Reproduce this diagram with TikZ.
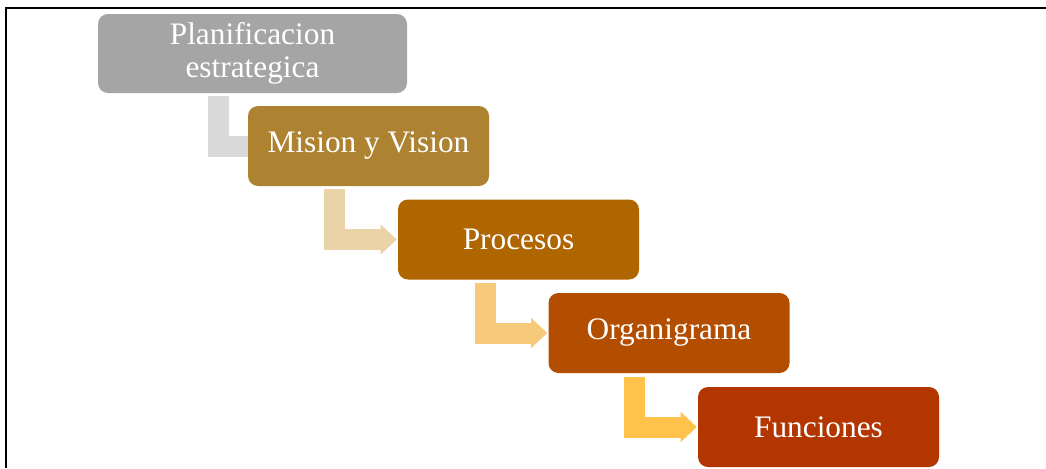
\documentclass[tikz,border=0pt]{standalone}
\usepackage{fontspec}
\setmainfont{Liberation Serif}
\usetikzlibrary{arrows.meta,calc,backgrounds}
\definecolor{cA}{HTML}{A5A5A5}
\definecolor{cB}{HTML}{AD8231}
\definecolor{cC}{HTML}{AF6500}
\definecolor{cD}{HTML}{B34D00}
\definecolor{cE}{HTML}{B33500}
\definecolor{kA}{HTML}{D9D9D9}
\definecolor{kB}{HTML}{EAD3A7}
\definecolor{kC}{HTML}{F6CA7A}
\definecolor{kD}{HTML}{FFC24A}
\tikzset{
  stagebox/.style={rectangle, rounded corners=7.5pt, inner sep=0pt,
    minimum width=180.75pt, minimum height=60pt, text=white, align=center,
    font=\fontsize{23.5}{23.5}\selectfont},
  bentarrow/.style={line width=15.75pt, line join=miter, line cap=butt,
    -{Triangle[length=12pt,width=22.5pt,line width=0pt]}},
  bentplain/.style={line width=15.75pt, line join=miter, line cap=butt},
  frameline/.style={line width=1.5pt, line join=miter}
}
\begin{document}
\begin{tikzpicture}[x=0.75pt,y=-0.75pt]
\useasboundingbox (0,0) rectangle (1046,468);
\draw[frameline] (6.2,468) -- (6.2,7.8) -- (1046,7.8);
\node[stagebox, fill=cA, minimum width=231.75pt, minimum height=59.25pt] (box1) at (252.5,53.5) {Planificacion\\[0.8pt]estrategica};
\node[stagebox, fill=cB] (box2) at (368.5,146) {Mision y Vision};
\node[stagebox, fill=cC] (box3) at (518.5,239.5) {Procesos};
\node[stagebox, fill=cD] (box4) at (669,333) {Organigrama};
\node[stagebox, fill=cE] (box5) at (818.5,427) {Funciones};
\begin{scope}[on background layer]
\draw[bentplain, kA] ($(box1.south west)+(120.5,3)$) |- (box2.west);
\end{scope}
\draw[bentarrow, kB] ($(box2.south west)+(86.5,3)$) |- ([xshift=-0.75pt]box3.west);
\draw[bentarrow, kC] ($(box3.south west)+(88,3)$) |- ([xshift=-0.75pt]box4.west);
\draw[bentarrow, kD] ($(box4.south west)+(86.5,4)$) |- ([xshift=-0.75pt]box5.west);
\end{tikzpicture}
\end{document}
